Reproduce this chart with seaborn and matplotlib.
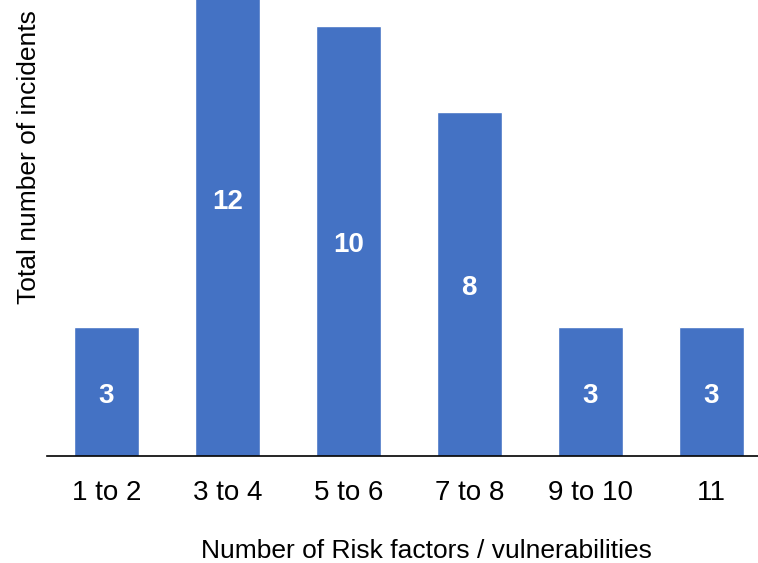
import matplotlib.pyplot as plt
import pandas as pd
import seaborn as sns

# Data
categories = ['1 to 2', '3 to 4', '5 to 6', '7 to 8', '9 to 10', '11']
incidents = [3, 12, 10, 8, 3, 3]

df = pd.DataFrame({'risk': categories, 'count': incidents})

sns.set_style('white')
plt.rcParams['font.family'] = ['Liberation Sans', 'DejaVu Sans']

fig = plt.figure(figsize=(7.58, 5.63), dpi=100)
ax = fig.add_axes([47 / 758, 107 / 563, 711 / 758, 456 / 563])

sns.barplot(data=df, x='risk', y='count', color='#4472C4', saturation=1,
            width=0.54, ax=ax)

ax.set_xlim(-0.49, 5.386)
ax.set_ylim(0, 10.6)

# value labels in the middle of each bar
for i, v in enumerate(incidents):
    ax.annotate(str(v), (i, v / 2), xytext=(0, -3), textcoords='offset points',
                ha='center', va='center', color='white',
                fontsize=20, fontweight='bold')

ax.set_yticks([])
ax.tick_params(axis='x', length=0, pad=17, labelsize=20, labelcolor='black')
sns.despine(ax=ax, left=True)
ax.spines['bottom'].set_color('black')
ax.spines['bottom'].set_linewidth(1.2)

ax.set_xlabel('Number of Risk factors / vulnerabilities', fontsize=19, color='black')
ax.set_ylabel('Total number of incidents', fontsize=19, color='black')
ax.xaxis.set_label_coords(0.533, -0.182)
ax.yaxis.set_label_coords(-0.008, 0.656)

fig.savefig('out.png', dpi=100)
